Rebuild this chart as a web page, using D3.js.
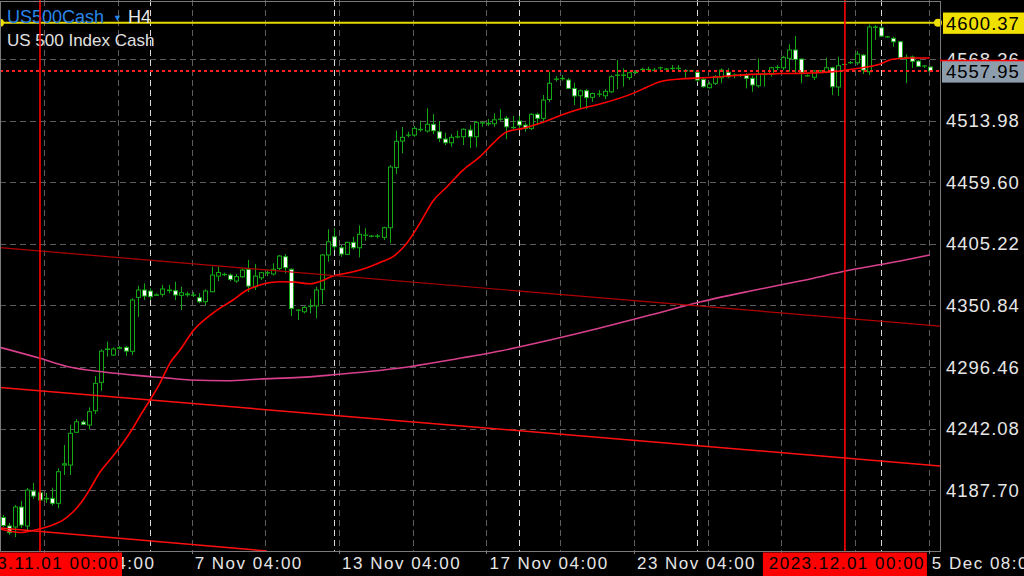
<!DOCTYPE html>
<html><head><meta charset="utf-8">
<script src="https://cdn.jsdelivr.net/npm/d3@7"></script>
<style>html,body{margin:0;padding:0;background:#000;overflow:hidden}</style>
</head><body>
<svg id="c" width="1024" height="576"></svg>
<script>
// ---- DATA (US500Cash, H4, bars from 31 Oct 00:00 to 5 Dec 08:00) ----
const open = [4163.7,4156.2,4155.3,4172.9,4156.2,4187.0,4185.5,4180.0,4180.6,4176.2,
4210.0,4210.0,4238.9,4248.0,4245.3,4257.9,4283.0,4312.0,4307.1,4313.0,
4313.9,4310.4,4358.0,4364.5,4363.6,4359.8,4360.7,4363.9,4363.9,4359.8,
4360.3,4359.8,4357.7,4354.2,4363.0,4376.8,4378.0,4377.7,4372.4,4376.2,
4382.8,4367.4,4375.3,4379.5,4378.6,4383.6,4393.9,4382.8,4346.6,4345.3,
4350.1,4350.4,4365.1,4395.4,4411.5,4401.8,4396.0,4406.6,4401.8,4412.8,
4411.9,4411.9,4411.0,4419.5,4472.6,4496.0,4501.1,4501.3,4506.0,4504.9,
4510.8,4504.2,4497.8,4494.5,4499.6,4499.8,4505.7,4499.8,4511.9,4511.3,
4511.3,4515.2,4516.1,4508.1,4513.7,4510.1,4507.2,4519.6,4516.1,4532.7,
4550.5,4551.0,4549.9,4542.5,4536.0,4540.4,4534.6,4537.3,4536.0,4539.5,
4554.0,4554.0,4552.1,4556.5,4559.0,4559.1,4558.4,4560.6,4559.4,4560.0,
4560.3,4557.9,4557.9,4556.7,4550.5,4543.1,4547.0,4551.9,4556.7,4554.1,
4554.0,4553.7,4551.4,4544.8,4554.7,4554.9,4560.9,4560.7,4569.0,4576.4,
4568.4,4553.5,4552.3,4557.9,4557.2,4560.7,4543.7,4563.6,4565.1,4565.1,
4571.9,4557.2,4596.7,4596.0,4587.9,4586.7,4583.7,4569.6,4570.2,4566.6,
4562.2,4561.4];
const high = [4165.9,4158.8,4174.7,4178.2,4189.7,4194.1,4187.9,4185.3,4190.0,4207.1,
4227.7,4245.3,4250.6,4249.7,4260.9,4288.6,4312.1,4318.9,4313.9,4315.1,
4315.1,4357.2,4368.3,4370.4,4366.0,4361.6,4368.9,4368.9,4371.8,4367.4,
4363.0,4362.7,4361.6,4365.1,4385.1,4385.1,4379.8,4379.2,4378.6,4383.6,
4391.0,4387.4,4380.6,4382.1,4388.1,4395.4,4396.3,4383.6,4347.5,4350.4,
4356.3,4367.4,4396.3,4418.1,4419.0,4404.2,4407.1,4411.5,4421.6,4419.0,
4413.0,4413.9,4420.4,4474.8,4505.1,4508.4,4504.2,4509.3,4513.9,4524.9,
4519.9,4513.7,4503.4,4502.2,4505.1,4507.2,4510.1,4513.7,4513.1,4515.4,
4520.5,4524.0,4518.1,4518.1,4518.1,4512.2,4520.7,4521.0,4536.6,4557.2,
4553.4,4554.3,4551.6,4547.5,4541.5,4541.9,4538.7,4541.0,4541.7,4554.3,
4567.5,4560.2,4557.2,4558.7,4560.7,4561.6,4560.7,4561.6,4560.7,4563.1,
4563.1,4559.6,4559.1,4558.7,4551.9,4548.4,4554.3,4560.2,4560.2,4555.8,
4555.2,4555.8,4553.7,4569.0,4557.2,4561.6,4563.1,4571.3,4581.4,4588.7,
4569.0,4554.9,4558.7,4558.7,4569.6,4561.6,4570.4,4565.3,4566.6,4575.5,
4572.8,4598.9,4598.4,4597.5,4589.0,4588.1,4584.3,4572.6,4571.5,4567.5,
4563.1,4561.8];
const low = [4155.3,4148.2,4146.4,4154.4,4152.6,4180.0,4178.2,4176.5,4174.1,4171.8,
4201.2,4201.2,4238.3,4245.3,4241.5,4255.0,4275.6,4305.6,4306.2,4312.1,
4306.5,4307.1,4340.9,4355.7,4355.7,4359.2,4358.6,4361.6,4355.7,4346.8,
4358.6,4358.3,4352.8,4351.2,4362.5,4372.4,4376.8,4372.4,4370.9,4375.3,
4362.7,4364.5,4373.3,4376.8,4377.3,4382.1,4379.2,4341.5,4338.0,4343.9,
4343.9,4339.5,4352.1,4389.5,4399.8,4393.9,4395.4,4400.4,4393.4,4408.0,
4411.0,4410.1,4408.6,4405.7,4466.9,4485.2,4499.3,4499.8,4504.2,4503.5,
4502.2,4495.1,4492.5,4491.0,4498.4,4492.5,4489.8,4490.5,4508.6,4509.3,
4508.6,4513.9,4497.8,4506.4,4505.7,4504.2,4505.7,4510.1,4511.7,4530.5,
4548.4,4549.3,4541.9,4527.8,4525.2,4524.3,4530.7,4534.9,4533.1,4538.4,
4541.9,4544.0,4549.9,4555.2,4557.2,4557.2,4556.7,4558.7,4557.8,4557.2,
4556.7,4551.9,4556.9,4548.1,4543.1,4542.5,4545.5,4547.0,4551.4,4551.4,
4552.6,4542.5,4539.5,4543.1,4544.0,4552.8,4558.7,4558.7,4557.2,4555.8,
4547.0,4552.8,4549.9,4556.7,4555.8,4536.6,4535.8,4562.2,4564.0,4563.1,
4555.2,4554.3,4585.2,4587.8,4587.0,4579.3,4568.9,4547.2,4560.5,4561.4,
4560.5,4556.9];
const close = [4156.6,4150.3,4172.9,4157.0,4187.9,4182.6,4179.1,4180.6,4176.2,4204.1,
4211.1,4238.0,4248.2,4245.9,4257.1,4282.1,4310.6,4312.4,4312.4,4313.6,
4310.6,4355.7,4364.5,4359.2,4358.6,4360.3,4365.4,4364.5,4360.1,4362.1,
4361.0,4360.1,4354.2,4363.6,4377.7,4379.9,4378.3,4373.9,4376.4,4382.1,
4368.0,4376.8,4379.8,4379.8,4382.8,4394.5,4384.2,4348.3,4346.8,4349.2,
4350.4,4364.5,4395.4,4407.1,4402.7,4396.3,4406.6,4401.8,4413.7,4413.0,
4412.2,4412.2,4419.5,4473.1,4495.8,4499.3,4501.3,4507.2,4506.4,4510.8,
4505.1,4498.4,4494.5,4499.3,4499.8,4506.4,4499.8,4512.5,4512.2,4511.7,
4514.8,4515.4,4508.6,4507.8,4510.1,4507.2,4519.6,4516.1,4532.2,4547.0,
4550.8,4551.4,4542.5,4535.8,4540.4,4534.3,4538.0,4537.5,4539.9,4552.8,
4554.3,4554.3,4556.3,4556.7,4559.3,4559.3,4558.7,4560.7,4559.6,4560.2,
4560.2,4558.1,4558.1,4549.9,4544.0,4546.3,4552.8,4558.7,4552.8,4554.3,
4554.3,4551.4,4545.5,4554.9,4554.9,4560.7,4561.1,4569.9,4576.4,4568.1,
4556.7,4553.7,4557.8,4558.1,4560.7,4544.0,4562.5,4563.7,4565.3,4572.8,
4558.7,4596.7,4596.4,4588.7,4588.1,4583.7,4569.7,4569.9,4566.4,4562.0,
4562.4,4557.95];

// fast moving average (red), read as [bar index, price]
const maFast = [[-0.44,4153.5],[2.82,4150.4],[4.93,4152.2],[6.89,4154.8],[8.51,4157.9],[9.82,4161.4],
[11.44,4168.5],[13.07,4179.1],[14.21,4188.8],[15.84,4203.8],[17.96,4217.9],[19.91,4232.1],[21.21,4242.7],
[22.35,4253.3],[23.98,4267.4],[25.61,4282.4],[27.23,4300.0],[28.86,4311.5],[30.98,4328.3],[34.23,4344.2],
[37.49,4355.7],[39.77,4364.5],[41.88,4368.9],[45.14,4371.8],[47.26,4371.6],[50.03,4370.0],[51.65,4372.0],
[53.77,4376.8],[56.05,4379.5],[58.16,4382.1],[61.42,4388.8],[63.54,4393.9],[65.81,4406.0],[67.93,4423.6],
[70.05,4443.1],[72.33,4455.7],[74.93,4470.4],[77.7,4482.2],[79.81,4494.0],[82.09,4504.2],[84.7,4507.2],
[87.46,4511.7],[91.21,4519.4],[93.98,4524.3],[97.24,4528.7],[102.6,4538.1],[104.9,4543.7],[107.0,4548.4],
[110.3,4550.8],[113.0,4551.6],[116.8,4552.8],[121.2,4554.7],[126.5,4555.6],[129.8,4555.8],[135.2,4557.2],
[137.4,4558.7],[139.6,4560.5],[142.3,4563.1],[144.9,4568.2],[147.7,4569.3],[150.9,4569.3]];
// slow moving average (pink)
const maSlow = [[-0.44,4313.9],[6.07,4304.2],[10.47,4297.0],[15.84,4292.5],[21.21,4289.4],[26.75,4286.8],
[30.49,4285.0],[36.51,4284.4],[41.88,4285.9],[48.4,4287.4],[53.28,4289.4],[64.67,4295.6],[72.81,4302.7],
[80.95,4310.6],[89.09,4320.3],[97.23,4330.9],[105.4,4342.4],[113.5,4353.9],[121.7,4363.6],[129.8,4372.4],
[138.0,4382.1],[146.1,4390.1],[150.9,4395.4]];
// trend lines: [[idx,price],[idx,price]], colour
const trendLines = [
  {pts:[[-0.44,4401.9],[152.58,4332.6]], color:"#b00000", w:1.2},
  {pts:[[-0.44,4278.5],[152.58,4209.2]], color:"#ff1010", w:1.5},
  {pts:[[-0.44,4154.4],[43.0,4134.1]], color:"#ff1010", w:1.5}
];
const priceTicks = [4187.70,4242.08,4296.46,4350.84,4405.22,4459.60,4513.98,4568.36];
const timeTickIdx = [7,31,55,79,103,127,151];
const timeTickLabels = ["1 Nov 04:00","7 Nov 04:00","13 Nov 04:00","17 Nov 04:00","23 Nov 04:00","29 Nov 08:00","5 Dec 08:00"];
const gridIdx = [7,19,31,43,55,67,79,91,103,115,127,139,151];
const weekSepIdx = [24,54,84,113,143];
const vLines = [{idx:6.07,label:"2023.11.01 00:00"},{idx:137.1,label:"2023.12.01 00:00"}];
const hLevel = 4600.37;
const bid = 4557.95;

// ---- DRAW ----
const plotR = 940, plotB = 551;
const svg = d3.select("#c");
const FONT = "'Liberation Sans', Arial, Helvetica, sans-serif";
svg.append("rect").attr("width",1024).attr("height",576).attr("fill","#000");
const x = d3.scaleLinear().domain([-0.44,152.58]).range([0,plotR]);
const y = d3.scaleLinear().domain([4134.1,4620.54]).range([plotB,0]);

svg.append("defs").append("clipPath").attr("id","pc")
  .append("rect").attr("x",0).attr("y",0).attr("width",plotR).attr("height",plotB);
const g = svg.append("g").attr("clip-path","url(#pc)");

// grid
g.selectAll(".hg").data(priceTicks).join("line")
  .attr("x1",0).attr("x2",plotR)
  .attr("y1",d=>Math.round(y(d))+0.5).attr("y2",d=>Math.round(y(d))+0.5)
  .attr("stroke","#5c5c5c").attr("stroke-dasharray","6,4");
g.selectAll(".vg").data(gridIdx).join("line")
  .attr("x1",d=>Math.round(x(d)-1.5)+0.5).attr("x2",d=>Math.round(x(d)-1.5)+0.5)
  .attr("y1",0).attr("y2",plotB)
  .attr("stroke","#5c5c5c").attr("stroke-dasharray","6,4");
g.selectAll(".ws").data(weekSepIdx).join("line")
  .attr("x1",d=>Math.round(x(d))+0.5).attr("x2",d=>Math.round(x(d))+0.5)
  .attr("y1",0).attr("y2",plotB)
  .attr("stroke","#d8d8d8").attr("stroke-dasharray","6,4");

// candles
const idx = d3.range(open.length);
const GREEN = "#14a814";
const cx = i => Math.round(x(i)) + 0.5;
g.selectAll(".wick").data(idx).join("line")
  .attr("x1",cx).attr("x2",cx)
  .attr("y1",i=>y(high[i])).attr("y2",i=>y(low[i]))
  .attr("stroke",GREEN).attr("stroke-width",1);
g.selectAll(".body").data(idx).join("rect")
  .attr("x",i=>cx(i)-2).attr("width",4)
  .attr("y",i=>y(Math.max(open[i],close[i])))
  .attr("height",i=>Math.max(0.01,Math.abs(y(open[i])-y(close[i]))))
  .attr("fill",i=>close[i]>=open[i]?"#000":"#fff")
  .attr("stroke",GREEN).attr("stroke-width",1);

// moving averages
const ln = d3.line().x(d=>x(d[0])).y(d=>y(d[1])).curve(d3.curveMonotoneX);
g.append("path").attr("d",ln(maSlow)).attr("fill","none").attr("stroke","#d8408c").attr("stroke-width",1.6);
g.append("path").attr("d",ln(maFast)).attr("fill","none").attr("stroke","#ff0000").attr("stroke-width",1.6);

// trend lines
const tl = d3.line().x(d=>x(d[0])).y(d=>y(d[1]));
trendLines.forEach(t=>{
  g.append("path").attr("d",tl(t.pts)).attr("fill","none").attr("stroke",t.color).attr("stroke-width",t.w);
});

// horizontal level & bid line
g.append("line").attr("x1",0).attr("x2",plotR).attr("y1",y(hLevel)).attr("y2",y(hLevel))
  .attr("stroke","#e6d800").attr("stroke-width",2);
g.append("line").attr("x1",0).attr("x2",plotR).attr("y1",y(bid)).attr("y2",y(bid))
  .attr("stroke","#ff2020").attr("stroke-width",2).attr("stroke-dasharray","3,3");

// title
const t1 = svg.append("text").attr("x",7).attr("y",23).attr("font-family",FONT).attr("font-size",18);
t1.append("tspan").attr("fill","#2a86e8").text("US500Cash");
svg.append("text").attr("x",113).attr("y",21).attr("font-family",FONT).attr("font-size",9).attr("fill","#2a86e8").text("▼");
svg.append("text").attr("x",128).attr("y",23).attr("font-family",FONT).attr("font-size",18).attr("fill","#e8e8e8").text("H4");
svg.append("text").attr("x",7).attr("y",46).attr("font-family",FONT).attr("font-size",17).attr("fill","#e0e0e0").text("US 500 Index Cash");

// markers on the level line
svg.append("circle").attr("cx",0).attr("cy",y(hLevel)).attr("r",4).attr("fill","#f0e000");
svg.append("circle").attr("cx",plotR-2).attr("cy",y(hLevel)).attr("r",4).attr("fill","#f0e000");

// vertical red lines
vLines.forEach(v=>{
  svg.append("line").attr("x1",x(v.idx)).attr("x2",x(v.idx)).attr("y1",0).attr("y2",plotB)
    .attr("stroke","#ff0000").attr("stroke-width",1.6);
});

// frame
svg.append("rect").attr("x",0.5).attr("y",1.5).attr("width",plotR).attr("height",plotB-1)
  .attr("fill","none").attr("stroke","#7a7a7a");

// right axis labels
svg.selectAll(".pl").data(priceTicks).join("text")
  .attr("x",946).attr("y",d=>y(d)+6.6)
  .attr("font-family",FONT).attr("font-size",18.5).attr("letter-spacing",1)
  .attr("fill","#e6e6e6").text(d=>d.toFixed(2));
// level label
svg.append("rect").attr("x",943).attr("y",y(hLevel)-10.3).attr("width",81).attr("height",21.3).attr("fill","#f0e000");
svg.append("text").attr("x",946).attr("y",y(hLevel)+6.8).attr("font-family",FONT).attr("font-size",18.5)
  .attr("letter-spacing",1).attr("fill","#000").text(hLevel.toFixed(2));
// bid label
svg.append("rect").attr("x",942).attr("y",y(bid)-10.3).attr("width",82).attr("height",22).attr("fill","#8d9dac");
svg.append("line").attr("x1",940).attr("x2",1024).attr("y1",y(bid)-10.3).attr("y2",y(bid)-10.3).attr("stroke","#ff0000").attr("stroke-width",1.5);
svg.append("text").attr("x",946).attr("y",y(bid)+7.2).attr("font-family",FONT).attr("font-size",18.5)
  .attr("letter-spacing",1).attr("fill","#000").text(bid.toFixed(2));

// bottom axis
svg.selectAll(".tk").data(timeTickIdx).join("line")
  .attr("x1",d=>Math.round(x(d)-1.5)+0.5).attr("x2",d=>Math.round(x(d)-1.5)+0.5)
  .attr("y1",plotB).attr("y2",plotB+3).attr("stroke","#7a7a7a");
svg.selectAll(".tl").data(timeTickIdx).join("text")
  .attr("x",d=>x(d)+1.5).attr("y",569)
  .attr("font-family",FONT).attr("font-size",17).attr("letter-spacing",1.5)
  .attr("fill","#e6e6e6").text((d,i)=>timeTickLabels[i]);
vLines.forEach(v=>{
  const vx = x(v.idx);
  svg.append("rect").attr("x",vx-82).attr("y",552.5).attr("width",164).attr("height",23.5).attr("fill","#ff0000");
  svg.append("text").attr("x",vx+2).attr("y",569).attr("text-anchor","middle")
    .attr("font-family",FONT).attr("font-size",17).attr("letter-spacing",1.5)
    .attr("fill","#000").text(v.label);
});
</script>
</body></html>
